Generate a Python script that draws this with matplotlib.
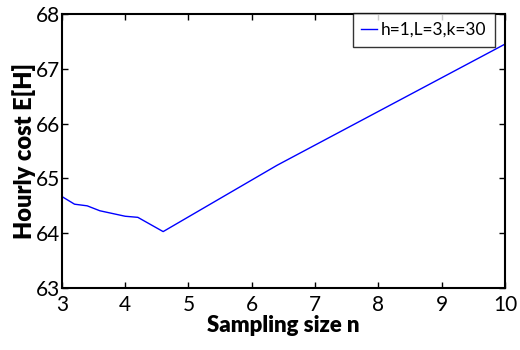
import matplotlib
matplotlib.use("Agg")
import matplotlib.pyplot as plt

n_values = [3.0, 3.2, 3.4, 3.6, 4.0, 4.2, 4.6, 6.4, 10.0]
cost_values = [64.67, 64.53, 64.50, 64.41, 64.31, 64.29, 64.03, 65.24, 67.45]
series_label = "h=1,L=3,k=30"
x_ticks = [3, 4, 5, 6, 7, 8, 9, 10]
y_ticks = [63, 64, 65, 66, 67, 68]

plt.rcParams['font.family'] = ['Lato', 'DejaVu Sans']

fig = plt.figure(figsize=(5.2, 3.5), dpi=100)
ax = fig.add_axes([0.119, 0.177, 0.852, 0.783])
ax.plot(n_values, cost_values, color='#0000ff', linewidth=1.0, label=series_label)
ax.set_xlim(3, 10)
ax.set_ylim(63, 68)
ax.set_xticks(x_ticks)
ax.set_yticks(y_ticks)
ax.tick_params(direction='in', top=True, right=True, labelsize=15, length=4, width=1)
ax.tick_params(axis='x', pad=5)
ax.tick_params(axis='y', pad=1)
for s in ax.spines.values():
    s.set_linewidth(1.5)
ax.set_xlabel("Sampling size n", fontsize=16, fontweight='heavy', labelpad=0)
ax.set_ylabel("Hourly cost E[H]", fontsize=17, fontweight='heavy', labelpad=0)
leg = ax.legend(loc='upper right', fontsize=12.5, frameon=True, fancybox=False,
                edgecolor='black', handlelength=0.9, handletextpad=0.2,
                borderpad=0.5, borderaxespad=0.0,
                bbox_to_anchor=(0.977, 1.003))
leg.get_frame().set_linewidth(1.0)
fig.savefig("out.png", dpi=100)
